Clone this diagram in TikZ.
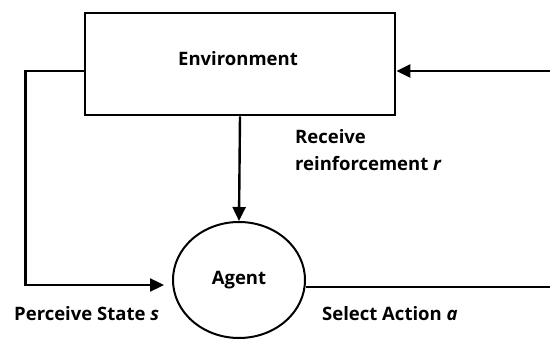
\documentclass[tikz,border=0pt]{standalone}
\usepackage{fontspec}
\setmainfont{Open Sans}
\usepackage{tikz}
\usetikzlibrary{positioning,shapes.geometric,arrows.meta,calc}

\begin{document}
\begin{tikzpicture}[
    x=1pt, y=-1pt,
    font=\fontsize{18.5}{22}\selectfont\bfseries,
    box/.style={
        draw=black,
        line width=2.8pt,
        minimum width=310pt,
        minimum height=102pt,
        align=center
    },
    blob/.style={
        ellipse,
        draw=black,
        line width=2pt,
        minimum width=132pt,
        minimum height=116pt,
        align=center
    },
    lbl/.style={anchor=base west, inner sep=0pt},
    arr/.style={-{Triangle[length=14pt,width=13pt]}, line width=2.4pt}
]
\useasboundingbox (0,0) rectangle (550,339);

% main nodes
\node[box] (env) at (240,64) {};
\node (envtxt) at (238,59) {Environment};
\node[blob] (agent) at (239,280) {Agent};

% free ends at the right edge
\coordinate (rtop) at (550,71);
\coordinate (rbot) at (550,287);

% connectors
\draw[arr] (env.south) -- (agent.north);
\draw[arr] ([yshift=-7pt]env.west) -- ++(-58,0) |- ([xshift=-8pt,yshift=-5pt]agent.west);
\draw[line width=2.4pt] ([yshift=-7pt]agent.east) -- (rbot);
\draw[arr] (rtop) -- ([yshift=-7pt]env.east);

% labels
\node[lbl] (recv) at (295,144) {Receive};
\node[lbl] (reinf) at (295,171) {reinforcement \textit{r}};
\node[lbl] (perc) at (14,321) {Perceive State \textit{s}};
\node[lbl] (act) at (322,321) {Select Action \textit{a}};

\end{tikzpicture}
\end{document}
